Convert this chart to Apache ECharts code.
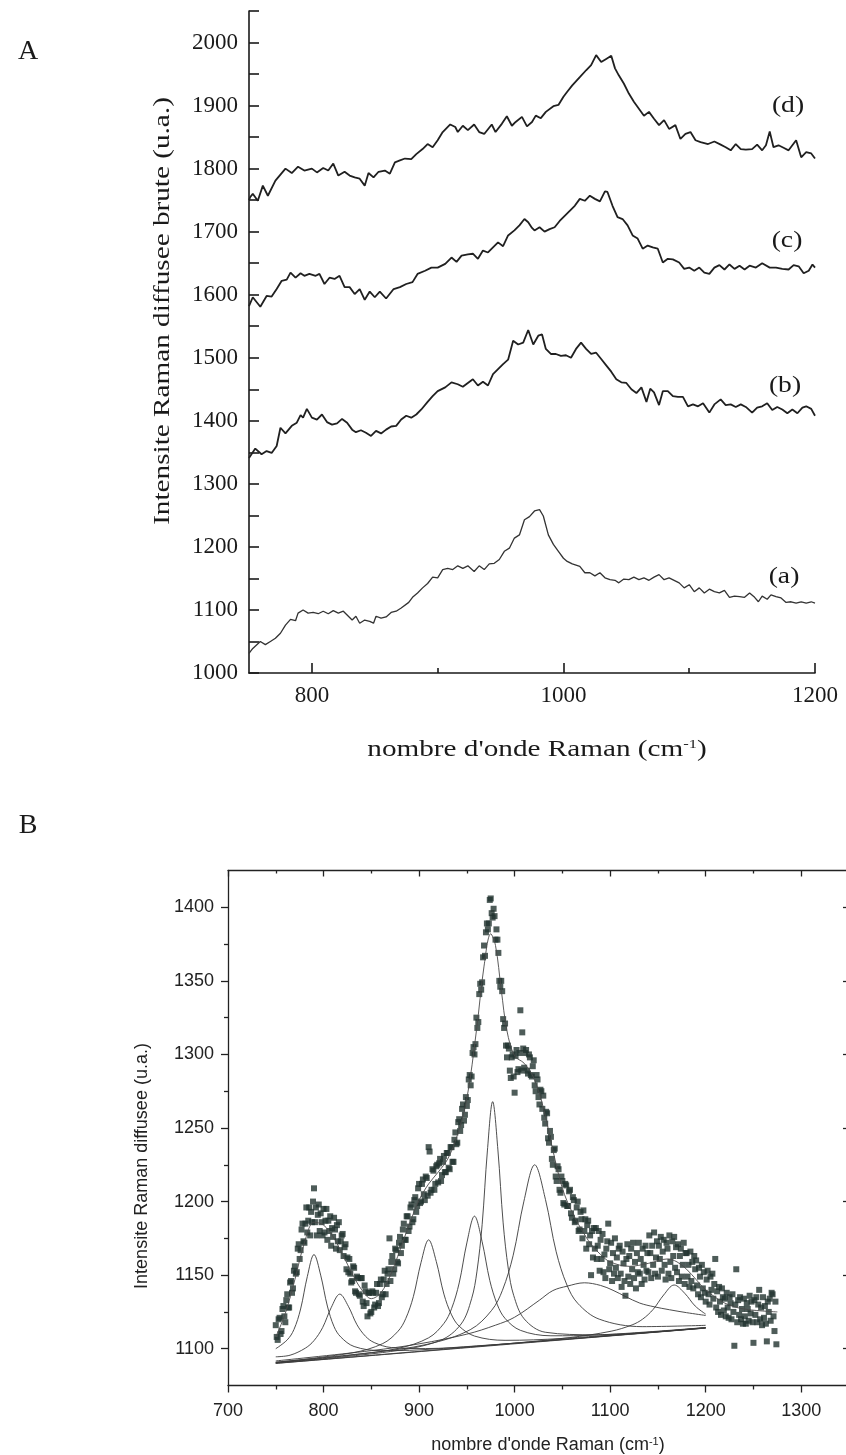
<!DOCTYPE html>
<html>
<head>
<meta charset="utf-8">
<script src="https://cdn.jsdelivr.net/npm/echarts@6/dist/echarts.min.js"></script>
<style>html,body{margin:0;padding:0;background:#fff}#c{width:846px;height:1455px}</style>
</head>
<body>
<div id="c"></div>
<script>
// ---------------- Panel A : raw Raman spectra (wavenumber, intensity) ----------------
const spectrumD = [[750,1750],[751,1755],[753,1760],[757,1749],[761,1773],[765,1757],[771,1781],[779,1800],[784,1793],[789,1803],[794,1797],[800,1800],[804,1794],[809,1801],[813,1797],[817,1808],[821,1789],[826,1795],[830,1789],[834,1786],[838,1784],[842,1773],[845,1793],[849,1786],[853,1795],[858,1797],[862,1792],[866,1810],[870,1813],[874,1816],[879,1815],[883,1823],[888,1831],[892,1839],[896,1834],[900,1845],[904,1858],[910,1870],[914,1866],[916,1858],[920,1868],[924,1861],[929,1870],[933,1858],[937,1855],[943,1870],[946,1858],[951,1871],[955,1883],[959,1868],[962,1874],[967,1882],[971,1867],[975,1874],[978,1884],[982,1880],[986,1890],[992,1899],[996,1901],[1000,1914],[1003,1922],[1007,1932],[1013,1945],[1018,1956],[1022,1964],[1026,1980],[1030,1969],[1034,1974],[1038,1979],[1041,1959],[1044,1948],[1048,1935],[1052,1919],[1056,1906],[1060,1895],[1064,1884],[1068,1890],[1072,1879],[1076,1869],[1080,1877],[1084,1863],[1089,1869],[1093,1847],[1097,1855],[1101,1858],[1105,1845],[1109,1842],[1115,1839],[1120,1843],[1125,1838],[1129,1834],[1133,1829],[1137,1839],[1141,1831],[1145,1830],[1150,1831],[1154,1838],[1158,1829],[1161,1837],[1164,1859],[1167,1834],[1171,1837],[1175,1833],[1179,1829],[1185,1845],[1189,1818],[1193,1826],[1197,1824],[1200,1816]];
const spectrumC = [[750,1582],[753,1596],[759,1581],[764,1598],[768,1597],[772,1609],[776,1622],[780,1624],[783,1635],[787,1627],[791,1634],[794,1630],[798,1633],[803,1630],[806,1633],[810,1617],[814,1627],[818,1625],[822,1630],[826,1612],[830,1612],[834,1601],[838,1609],[842,1592],[846,1605],[850,1596],[854,1605],[859,1594],[865,1609],[870,1612],[875,1617],[880,1620],[884,1633],[890,1638],[895,1643],[900,1643],[906,1649],[911,1659],[915,1652],[919,1662],[924,1664],[928,1665],[932,1657],[936,1670],[940,1667],[944,1675],[948,1683],[952,1677],[956,1694],[961,1702],[965,1710],[969,1720],[972,1715],[975,1706],[977,1702],[981,1707],[985,1700],[989,1704],[993,1707],[997,1717],[1001,1725],[1005,1733],[1009,1741],[1013,1752],[1017,1749],[1021,1757],[1025,1752],[1029,1748],[1033,1764],[1035,1763],[1039,1741],[1043,1723],[1047,1720],[1051,1710],[1055,1694],[1059,1689],[1063,1673],[1067,1678],[1071,1675],[1075,1673],[1079,1651],[1083,1657],[1087,1656],[1092,1651],[1096,1641],[1100,1643],[1104,1638],[1108,1643],[1112,1635],[1116,1633],[1120,1643],[1124,1647],[1128,1640],[1132,1648],[1136,1641],[1140,1646],[1144,1640],[1148,1646],[1153,1643],[1158,1650],[1164,1643],[1169,1643],[1174,1641],[1179,1640],[1183,1647],[1187,1645],[1191,1634],[1195,1638],[1198,1648],[1200,1643]];
const spectrumB = [[750,1341],[755,1356],[760,1347],[764,1352],[768,1349],[772,1360],[775,1389],[779,1380],[784,1392],[788,1397],[791,1409],[793,1405],[796,1419],[800,1405],[804,1402],[808,1410],[812,1398],[816,1394],[820,1396],[824,1403],[828,1397],[832,1386],[835,1382],[839,1385],[843,1381],[847,1376],[851,1384],[855,1380],[859,1386],[863,1391],[867,1392],[871,1402],[875,1408],[879,1405],[883,1410],[887,1418],[892,1430],[896,1439],[900,1447],[906,1453],[911,1461],[916,1458],[920,1454],[924,1460],[928,1466],[932,1456],[936,1462],[940,1456],[944,1474],[948,1482],[952,1490],[956,1497],[960,1527],[964,1521],[968,1524],[972,1544],[976,1521],[980,1535],[983,1537],[986,1514],[990,1506],[994,1506],[998,1503],[1002,1504],[1006,1500],[1010,1514],[1014,1524],[1018,1514],[1022,1506],[1026,1508],[1030,1498],[1034,1488],[1038,1478],[1042,1466],[1046,1461],[1050,1460],[1054,1450],[1058,1444],[1062,1453],[1066,1430],[1069,1451],[1072,1445],[1076,1425],[1079,1447],[1083,1447],[1087,1439],[1091,1438],[1095,1438],[1099,1423],[1103,1426],[1107,1423],[1111,1428],[1116,1413],[1120,1426],[1125,1434],[1129,1425],[1133,1426],[1137,1422],[1141,1426],[1145,1422],[1150,1413],[1154,1421],[1158,1423],[1162,1428],[1166,1417],[1170,1422],[1174,1418],[1178,1412],[1182,1418],[1186,1412],[1190,1421],[1193,1423],[1197,1419],[1200,1408]];
const spectrumA = [[750,1031],[753,1039],[759,1050],[763,1045],[767,1050],[771,1055],[775,1063],[779,1076],[783,1085],[787,1083],[789,1095],[793,1100],[797,1095],[801,1096],[805,1094],[809,1098],[813,1094],[817,1099],[821,1095],[825,1098],[829,1090],[832,1084],[835,1090],[838,1079],[842,1084],[846,1082],[849,1079],[851,1090],[855,1087],[859,1089],[863,1096],[867,1098],[871,1103],[877,1112],[880,1120],[884,1127],[888,1135],[892,1142],[896,1152],[900,1151],[904,1164],[908,1166],[912,1164],[916,1170],[920,1166],[924,1170],[929,1161],[933,1170],[937,1164],[941,1173],[945,1174],[949,1180],[953,1193],[957,1198],[961,1214],[965,1219],[969,1243],[973,1248],[977,1257],[981,1259],[984,1249],[988,1219],[992,1204],[996,1193],[1000,1182],[1003,1177],[1007,1173],[1013,1169],[1017,1159],[1021,1159],[1025,1154],[1029,1159],[1033,1151],[1037,1148],[1041,1147],[1044,1143],[1048,1149],[1052,1148],[1056,1152],[1060,1148],[1064,1151],[1068,1147],[1072,1152],[1076,1156],[1080,1148],[1084,1151],[1088,1147],[1092,1143],[1096,1135],[1100,1140],[1104,1129],[1108,1135],[1112,1127],[1116,1133],[1120,1129],[1124,1127],[1128,1131],[1132,1120],[1136,1122],[1140,1121],[1144,1120],[1148,1127],[1152,1120],[1155,1113],[1158,1122],[1162,1117],[1165,1124],[1169,1121],[1173,1119],[1177,1112],[1181,1113],[1185,1111],[1189,1113],[1193,1111],[1197,1113],[1200,1111]];
const spectrumNames = ['(d)', '(c)', '(b)', '(a)'];
const xTickLabelsA = [800, 1000, 1200];
const xMinorTicksA = [900, 1100];
const yTickLabelsA = [1000, 1100, 1200, 1300, 1400, 1500, 1600, 1700, 1800, 1900, 2000];
const yTicksA = [1000, 1050, 1100, 1150, 1200, 1250, 1300, 1350, 1400, 1450, 1500, 1550, 1600, 1650, 1700, 1750, 1800, 1850, 1900, 1950, 2000, 2050];

// ---------------- Panel B : measured points + fitted bands ----------------
const scatterX = [
750,751,752,753,754,755,756,757,758,759,760,761,762,763,764,765,766,767,768,769,
770,771,772,773,774,775,776,777,778,779,780,781,782,783,784,785,786,787,788,789,
790,791,792,793,794,795,796,797,798,799,800,801,802,803,804,805,806,807,808,809,
810,811,812,813,814,815,816,817,818,819,820,821,822,823,824,825,826,827,828,829,
830,831,832,833,834,835,836,837,838,839,840,841,842,843,844,845,846,847,848,849,
850,851,852,853,854,855,856,857,858,859,860,861,862,863,864,865,866,867,868,869,
870,871,872,873,874,875,876,877,878,879,880,881,882,883,884,885,886,887,888,889,
890,891,892,893,894,895,896,897,898,899,900,901,902,903,904,905,906,907,908,909,
910,911,912,913,914,915,916,917,918,919,920,921,922,923,924,925,926,927,928,929,
930,931,932,933,934,935,936,937,938,939,940,941,942,943,944,945,946,947,948,949,
950,951,952,953,954,955,956,957,958,959,960,961,962,963,964,965,966,967,968,969,
970,971,972,973,974,975,976,977,978,979,980,981,982,983,984,985,986,987,988,989,
990,991,992,993,994,995,996,997,998,999,1000,1001,1002,1003,1004,1005,1006,1007,1008,1009,
1010,1011,1012,1013,1014,1015,1016,1017,1018,1019,1020,1021,1022,1023,1024,1025,1026,1027,1028,1029,
1030,1031,1032,1033,1034,1035,1036,1037,1038,1039,1040,1041,1042,1043,1044,1045,1046,1047,1048,1049,
1050,1051,1052,1053,1054,1055,1056,1057,1058,1059,1060,1061,1062,1063,1064,1065,1066,1067,1068,1069,
1070,1071,1072,1073,1074,1075,1076,1077,1078,1079,1080,1081,1082,1083,1084,1085,1086,1087,1088,1089,
1090,1091,1092,1093,1094,1095,1096,1097,1098,1099,1100,1101,1102,1103,1104,1105,1106,1107,1108,1109,
1110,1111,1112,1113,1114,1115,1116,1117,1118,1119,1120,1121,1122,1123,1124,1125,1126,1127,1128,1129,
1130,1131,1132,1133,1134,1135,1136,1137,1138,1139,1140,1141,1142,1143,1144,1145,1146,1147,1148,1149,
1150,1151,1152,1153,1154,1155,1156,1157,1158,1159,1160,1161,1162,1163,1164,1165,1166,1167,1168,1169,
1170,1171,1172,1173,1174,1175,1176,1177,1178,1179,1180,1181,1182,1183,1184,1185,1186,1187,1188,1189,
1190,1191,1192,1193,1194,1195,1196,1197,1198,1199,1200,1201,1202,1203,1204,1205,1206,1207,1208,1209,
1210,1211,1212,1213,1214,1215,1216,1217,1218,1219,1220,1221,1222,1223,1224,1225,1226,1227,1228,1229,
1230,1231,1232,1233,1234,1235,1236,1237,1238,1239,1240,1241,1242,1243,1244,1245,1246,1247,1248,1249,
1250,1251,1252,1253,1254,1255,1256,1257,1258,1259,1260,1261,1262,1263,1264,1265,1266,1267,1268,1269,
1270,1271,1272,1273,1274];
const scatterY = [
1116,1108,1106,1120,1121,1110,1112,1127,1129,1122, 1118,1133,1137,1128,1128,1145,1146,1138,1141,1153,
1156,1151,1152,1168,1171,1161,1167,1181,1185,1173, 1172,1185,1196,1179,1187,1196,1177,1193,1186,1200,
1209,1186,1196,1177,1191,1198,1180,1192,1186,1177, 1195,1179,1187,1195,1174,1187,1180,1190,1170,1182,
1176,1189,1181,1168,1184,1173,1186,1167,1173,1177, 1178,1163,1169,1171,1154,1162,1152,1161,1151,1145,
1146,1156,1155,1139,1138,1149,1148,1137,1136,1148, 1148,1132,1129,1143,1139,1131,1122,1138,1138,1124,
1125,1139,1138,1128,1130,1138,1144,1129,1131,1144, 1147,1135,1137,1147,1153,1137,1144,1151,1154,1175,
1146,1159,1163,1151,1154,1168,1167,1159,1158,1172, 1176,1165,1170,1181,1185,1174,1174,1190,1190,1180,
1183,1196,1198,1186,1188,1201,1203,1193,1197,1209, 1212,1199,1200,1212,1215,1205,1201,1217,1216,1204,
1237,1234,1206,1208,1222,1221,1208,1212,1224,1225, 1213,1226,1229,1214,1218,1227,1231,1220,1220,1233,
1233,1223,1222,1237,1237,1227,1227,1242,1247,1239, 1240,1254,1256,1248,1252,1263,1266,1255,1259,1271,
1265,1269,1283,1286,1279,1285,1301,1305,1300,1307, 1325,1318,1322,1341,1348,1344,1349,1366,1374,1367,
1383,1389,1385,1389,1405,1406,1396,1393,1399,1394, 1378,1385,1378,1369,1350,1346,1350,1343,1324,1318,
1321,1306,1298,1306,1304,1289,1284,1298,1300,1285, 1274,1299,1303,1288,1290,1301,1330,1289,1315,1304,
1291,1301,1303,1289,1287,1300,1298,1286,1285,1292, 1296,1279,1275,1286,1283,1271,1266,1276,1275,1263,
1272,1257,1253,1261,1260,1243,1240,1248,1244,1229, 1225,1235,1236,1217,1214,1224,1222,1208,1206,1217,
1214,1199,1198,1212,1211,1197,1197,1207,1208,1192, 1189,1203,1201,1186,1187,1196,1200,1180,1181,1193,
1188,1175,1194,1180,1188,1168,1184,1187,1171,1177, 1150,1180,1162,1182,1168,1182,1161,1170,1180,1153,
1174,1161,1178,1152,1164,1148,1168,1173,1185,1154, 1158,1172,1146,1165,1151,1175,1155,1162,1148,1168,
1170,1151,1142,1166,1158,1146,1136,1161,1171,1149, 1163,1144,1168,1154,1172,1148,1159,1141,1165,1152,
1172,1151,1161,1144,1168,1157,1147,1170,1153,1165, 1152,1177,1165,1148,1170,1157,1179,1151,1162,1173,
1149,1170,1161,1176,1153,1166,1174,1157,1147,1172, 1168,1151,1177,1159,1148,1173,1163,1176,1155,1169,
1152,1171,1146,1163,1168,1149,1157,1172,1144,1165, 1165,1149,1157,1142,1166,1146,1159,1141,1163,1154,
1160,1143,1137,1155,1149,1135,1157,1141,1152,1138, 1132,1147,1153,1137,1130,1149,1140,1151,1134,1144,
1161,1128,1139,1125,1142,1132,1123,1141,1135,1126, 1134,1122,1138,1128,1121,1135,1131,1120,1137,1125,
1102,1130,1154,1118,1133,1123,1135,1120,1127,1117, 1134,1122,1117,1131,1127,1119,1136,1124,1132,1118,
1104,1133,1123,1135,1118,1130,1140,1120,1128,1116, 1135,1121,1129,1117,1105,1132,1125,1134,1119,1138,
1137,1122,1112,1132,1103];

const fitBaseline = [[750,1090],[1200,1114]];
const fitBand790 = [[750,1100],[762,1106],[769,1113],[776,1127],[783,1149],[790,1164],[797,1150],[804,1129],[811,1115],[818,1108],[832,1101.5],[860,1098.7],[900,1099.2],[1000,1103.7],[1200,1114.1]];
const fitBand817 = [[750,1094.5],[765,1095.6],[781,1100.4],[790,1105.5],[799,1114.3],[808,1127.9],[817,1137.1],[826,1128.8],[835,1116.3],[844,1108.4],[853,1104.2],[871,1100.8],[907,1100.1],[960,1101.9],[1050,1106.3],[1200,1114.1]];
const fitBand910 = [[750,1090.8],[830,1097.2],[862,1103.5],[878,1111.9],[886,1120.4],[894,1135.4],[902,1158.5],[910,1174],[918,1159.3],[926,1137.1],[934,1123],[942,1115.3],[958,1108.6],[990,1105.7],[1050,1107],[1200,1114.2]];
const fitBand958 = [[750,1090.5],[830,1095.7],[878,1100.2],[910,1107.4],[926,1117.2],[934,1127.2],[942,1144.7],[950,1171.9],[958,1190.1],[966,1172.7],[974,1146.4],[982,1129.8],[990,1120.6],[1006,1112.5],[1038,1108.8],[1086,1109.3],[1200,1114.4]];
const fitBand977 = [[750,1090.4],[870,1098.1],[922,1105.6],[944,1116.8],[955,1134],[960.5,1152.2],[966,1184.3],[971.5,1234.4],[977,1267.9],[982.5,1235.1],[988,1185.5],[993.5,1153.9],[999,1136.3],[1010,1120.3],[1032,1111.2],[1084,1109.5],[1200,1114.4]];
const fitBand1021 = [[750,1090.8],[850,1097.4],[908.5,1103],[953.5,1112.9],[976,1126.1],[987.25,1139.7],[998.5,1163.5],[1009.75,1200.3],[1021,1225],[1032.25,1201.5],[1043.5,1165.9],[1054.75,1143.3],[1066,1130.9],[1088.5,1120.1],[1133.5,1115],[1200,1115.9]];
const fitBand1073 = [[750,1091.7],[850,1098.7],[900,1103.3],[950,1109.9],[980,1116],[1000,1121.4],[1026,1133],[1040,1139.5],[1055,1142.5],[1073,1144.8],[1090,1143],[1103,1139.7],[1116,1135.5],[1131,1131],[1146,1128.5],[1162,1126.5],[1180,1124.5],[1200,1122.6]];
const fitBand1167 = [[750,1090.1],[900,1098.2],[1000,1103.8],[1057,1107.5],[1101,1111.9],[1123,1116.2],[1134,1120.1],[1145,1126.7],[1156,1136.5],[1167,1143.3],[1178,1137.7],[1189,1129],[1200,1123.5]];
const fitEnvelope = [[750,1108],[760,1124],[770,1147],[780,1172],[790,1186],[800,1184],[810,1176],[820,1164],[830,1151],[840,1140],[850,1134],[860,1138],[870,1150],[880,1167],[890,1185],[900,1201],[910,1212],[920,1220],[930,1229],[940,1245],[950,1270],[960,1316],[968,1360],[975,1382],[980,1374],[986,1344],[992,1316],[1000,1299],[1010,1294],[1020,1284],[1030,1264],[1040,1235],[1050,1209],[1060,1193],[1070,1181],[1080,1171],[1090,1164],[1100,1159],[1120,1156],[1140,1158],[1160,1161],[1170,1159],[1180,1154],[1190,1147],[1200,1140],[1220,1131],[1240,1127],[1275,1125]];
const yTickLabelsB = [1100, 1150, 1200, 1250, 1300, 1350, 1400];
const yMinorTicksB = [1125, 1175, 1225, 1275, 1325, 1375];

// ---------------- chart ----------------
const serif = "'Liberation Serif', 'Times New Roman', serif";
const sans = "'Liberation Sans', Arial, sans-serif";
const ink = '#1a1a1a';
const axLineA = {color: ink, width: 1.6};
const axLineB = {color: '#222', width: 1.3};
const plain = (v) => String(v);

const chart = echarts.init(document.getElementById('c'), null, {renderer: 'canvas', width: 846, height: 1455});

function bandSeries(data) {
  return {type: 'line', xAxisIndex: 2, yAxisIndex: 1, data: data, showSymbol: false, symbol: 'none',
    smooth: 0.35, lineStyle: {color: '#3a3a3a', width: 0.9}, z: 4, silent: true};
}

const option = {
  animation: false,
  backgroundColor: '#ffffff',
  grid: [
    {left: 249, top: 11, width: 566, height: 662, containLabel: false, outerBoundsMode: 'none'},
    {left: 228, top: 870.5, width: 621, height: 515, containLabel: false, outerBoundsMode: 'none'}
  ],
  xAxis: [
    {type: 'value', gridIndex: 0, position: 'bottom', min: 750, max: 1200,
      axisLine: {show: true, onZero: false, lineStyle: axLineA},
      axisTick: {show: true, inside: true, length: 10, customValues: xTickLabelsA, lineStyle: axLineA},
      axisLabel: {show: true, customValues: xTickLabelsA, formatter: plain, margin: 11, fontFamily: serif, fontSize: 23, color: ink},
      splitLine: {show: false}},
    {type: 'value', gridIndex: 0, position: 'bottom', min: 750, max: 1200,
      axisLine: {show: false, onZero: false},
      axisTick: {show: true, inside: true, length: 5, customValues: xMinorTicksA, lineStyle: axLineA},
      axisLabel: {show: false}, splitLine: {show: false}},
    {type: 'value', gridIndex: 1, position: 'bottom', min: 700, max: 1350, interval: 100,
      axisLine: {show: true, onZero: false, lineStyle: axLineB},
      axisTick: {show: true, inside: false, length: 7, lineStyle: axLineB},
      minorTick: {show: true, splitNumber: 2, length: 4, lineStyle: axLineB},
      axisLabel: {show: true, showMaxLabel: false, formatter: plain, margin: 17, fontFamily: sans, fontSize: 18, color: '#222'},
      splitLine: {show: false}, minorSplitLine: {show: false}},
    {type: 'value', gridIndex: 1, position: 'top', min: 700, max: 1350, interval: 100,
      axisLine: {show: true, onZero: false, lineStyle: axLineB},
      axisTick: {show: true, inside: true, length: 6, lineStyle: axLineB},
      minorTick: {show: true, splitNumber: 2, length: 3, lineStyle: axLineB},
      axisLabel: {show: false}, splitLine: {show: false}, minorSplitLine: {show: false}}
  ],
  yAxis: [
    {type: 'value', gridIndex: 0, position: 'left', min: 1000, max: 2050,
      axisLine: {show: true, onZero: false, lineStyle: axLineA},
      axisTick: {show: true, inside: true, length: 10, customValues: yTicksA, lineStyle: axLineA},
      axisLabel: {show: true, customValues: yTickLabelsA, formatter: plain, margin: 11, fontFamily: serif, fontSize: 23, color: ink},
      splitLine: {show: false}},
    {type: 'value', gridIndex: 1, position: 'left', min: 1075, max: 1425,
      axisLine: {show: true, onZero: false, lineStyle: axLineB},
      axisTick: {show: true, inside: false, length: 7, customValues: yTickLabelsB, lineStyle: axLineB},
      axisLabel: {show: true, customValues: yTickLabelsB, formatter: plain, margin: 14, fontFamily: sans, fontSize: 18, color: '#222'},
      splitLine: {show: false}},
    {type: 'value', gridIndex: 1, position: 'left', min: 1075, max: 1425,
      axisLine: {show: false, onZero: false},
      axisTick: {show: true, inside: false, length: 4, customValues: yMinorTicksB, lineStyle: axLineB},
      axisLabel: {show: false}, splitLine: {show: false}},
    {type: 'value', gridIndex: 1, position: 'right', min: 1075, max: 1425,
      axisLine: {show: true, onZero: false, lineStyle: axLineB},
      axisTick: {show: true, inside: true, length: 6, customValues: yTickLabelsB, lineStyle: axLineB},
      axisLabel: {show: false}, splitLine: {show: false}},
    {type: 'value', gridIndex: 1, position: 'right', min: 1075, max: 1425,
      axisLine: {show: false, onZero: false},
      axisTick: {show: true, inside: true, length: 3, customValues: yMinorTicksB, lineStyle: axLineB},
      axisLabel: {show: false}, splitLine: {show: false}}
  ],
  series: [
    {name: spectrumNames[0], type: 'line', xAxisIndex: 0, yAxisIndex: 0, data: spectrumD, showSymbol: false, symbol: 'none', lineStyle: {color: '#202020', width: 1.8}},
    {name: spectrumNames[1], type: 'line', xAxisIndex: 0, yAxisIndex: 0, data: spectrumC, showSymbol: false, symbol: 'none', lineStyle: {color: '#202020', width: 1.8}},
    {name: spectrumNames[2], type: 'line', xAxisIndex: 0, yAxisIndex: 0, data: spectrumB, showSymbol: false, symbol: 'none', lineStyle: {color: '#202020', width: 1.8}},
    {name: spectrumNames[3], type: 'line', xAxisIndex: 0, yAxisIndex: 0, data: spectrumA, showSymbol: false, symbol: 'none', lineStyle: {color: '#333333', width: 1.3}},
    {name: 'mesure', type: 'scatter', xAxisIndex: 2, yAxisIndex: 1, symbol: 'rect', symbolSize: 6,
      data: scatterX.map((x, i) => [x, scatterY[i]]), itemStyle: {color: '#22332f'}, z: 2, silent: true},
    bandSeries(fitBaseline),
    bandSeries(fitBand790),
    bandSeries(fitBand817),
    bandSeries(fitBand910),
    bandSeries(fitBand958),
    bandSeries(fitBand977),
    bandSeries(fitBand1021),
    bandSeries(fitBand1073),
    bandSeries(fitBand1167),
    Object.assign(bandSeries(fitEnvelope), {lineStyle: {color: '#4a4a4a', width: 0.9}})
  ],
  graphic: [
    {type: 'text', x: 28, y: 52, style: {text: 'A', fontFamily: serif, fontSize: 28, fill: ink, align: 'center', verticalAlign: 'middle', textAlign: 'center', textVerticalAlign: 'middle'}},
    {type: 'text', x: 28, y: 826, style: {text: 'B', fontFamily: serif, fontSize: 28, fill: ink, align: 'center', verticalAlign: 'middle', textAlign: 'center', textVerticalAlign: 'middle'}},
    {type: 'text', x: 163, y: 311, rotation: Math.PI / 2, scaleX: 1.27,
      style: {text: 'Intensite Raman diffusee brute (u.a.)', fontFamily: serif, fontSize: 23, fill: ink, align: 'center', verticalAlign: 'middle', textAlign: 'center', textVerticalAlign: 'middle'}},
    {type: 'text', x: 537, y: 750, scaleX: 1.27,
      style: {text: "{n|nombre d'onde Raman (cm}{s|-1}{n|)}", align: 'center', verticalAlign: 'middle', textAlign: 'center', textVerticalAlign: 'middle',
        rich: {n: {fontFamily: serif, fontSize: 23, fill: ink}, s: {fontFamily: serif, fontSize: 13, fill: ink, verticalAlign: 'top'}}}},
    {type: 'text', x: 788, y: 106, scaleX: 1.2, style: {text: spectrumNames[0], fontFamily: serif, fontSize: 23, fill: ink, align: 'center', verticalAlign: 'middle', textAlign: 'center', textVerticalAlign: 'middle'}},
    {type: 'text', x: 787, y: 241, scaleX: 1.2, style: {text: spectrumNames[1], fontFamily: serif, fontSize: 23, fill: ink, align: 'center', verticalAlign: 'middle', textAlign: 'center', textVerticalAlign: 'middle'}},
    {type: 'text', x: 785, y: 386, scaleX: 1.2, style: {text: spectrumNames[2], fontFamily: serif, fontSize: 23, fill: ink, align: 'center', verticalAlign: 'middle', textAlign: 'center', textVerticalAlign: 'middle'}},
    {type: 'text', x: 784, y: 577, scaleX: 1.2, style: {text: spectrumNames[3], fontFamily: serif, fontSize: 23, fill: ink, align: 'center', verticalAlign: 'middle', textAlign: 'center', textVerticalAlign: 'middle'}},
    {type: 'text', x: 142, y: 1166, rotation: Math.PI / 2,
      style: {text: 'Intensite Raman diffusee (u.a.)', fontFamily: sans, fontSize: 18, fill: '#222', align: 'center', verticalAlign: 'middle', textAlign: 'center', textVerticalAlign: 'middle'}},
    {type: 'text', x: 548, y: 1445,
      style: {text: "{n|nombre d'onde Raman (cm}{s|-1}{n|)}", align: 'center', verticalAlign: 'middle', textAlign: 'center', textVerticalAlign: 'middle',
        rich: {n: {fontFamily: sans, fontSize: 18, fill: '#222'}, s: {fontFamily: sans, fontSize: 11, fill: '#222', verticalAlign: 'top'}}}}
  ]
};
chart.setOption(option);
</script>
</body>
</html>
